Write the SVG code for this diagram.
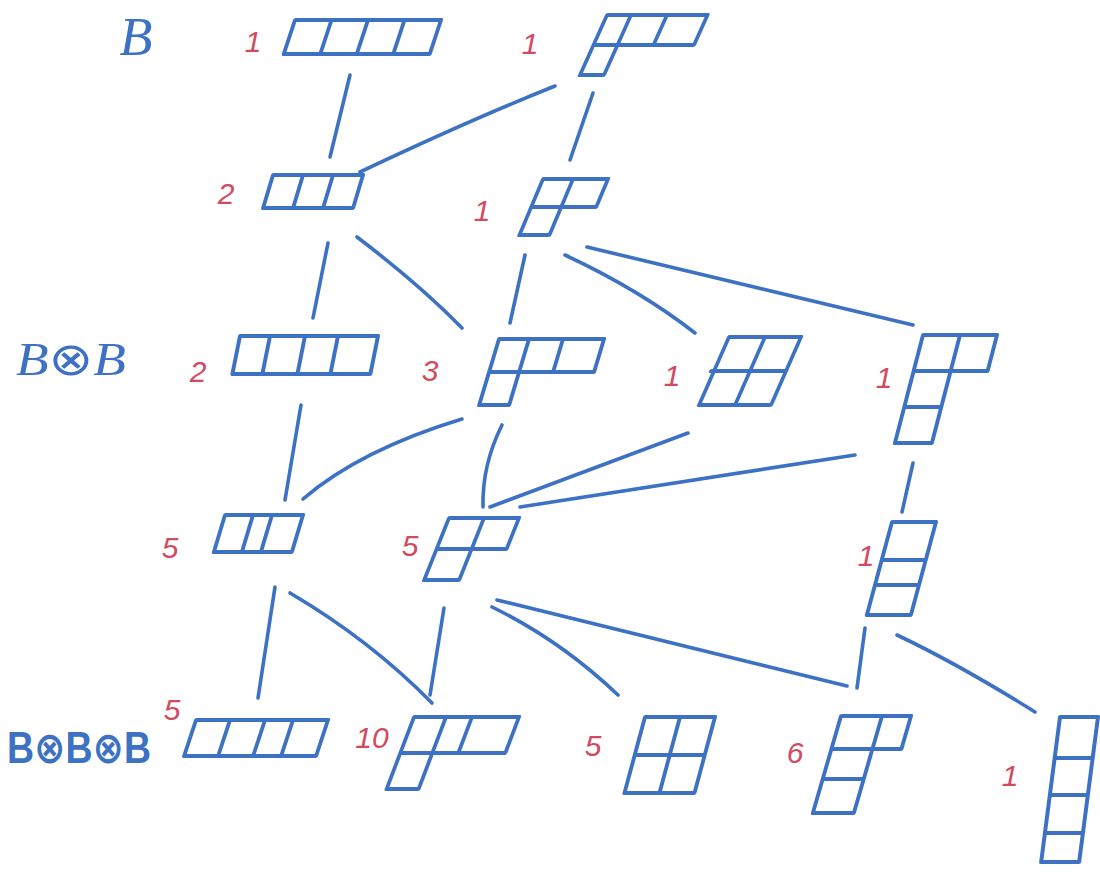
<svg xmlns="http://www.w3.org/2000/svg" width="1100" height="872" viewBox="0 0 1100 872">
  <style>
    .tab { fill: none; stroke: #3d71c4; stroke-width: 4; stroke-linecap: round; stroke-linejoin: round; }
    .edge { fill: none; stroke: #3d71c4; stroke-width: 3.6; stroke-linecap: round; }
    .mult { font-family: "Liberation Sans", "DejaVu Sans", sans-serif; font-style: italic; font-size: 30px; fill: #d24a60; text-anchor: middle; }
    .space { font-family: "Liberation Serif", "DejaVu Sans", serif; font-style: italic; fill: #3d71c4; }
    .space3 { font-family: "Liberation Sans", "DejaVu Sans", sans-serif; font-weight: bold; fill: #3d71c4; }
  </style>
  <rect width="1100" height="872" fill="#ffffff"/>

  <!-- row labels -->
  <g id="labels">
    <text class="space" x="136" y="55" font-size="54" text-anchor="middle">B</text>
    <text class="space" x="16" y="375" font-size="46" textLength="110" lengthAdjust="spacingAndGlyphs">B⊗B</text>
    <text class="space3" x="7" y="763" font-size="44" textLength="144" lengthAdjust="spacingAndGlyphs">B⊗B⊗B</text>
  </g>

  <!-- connectors between consecutive levels -->
  <g id="connectors">
    <path class="edge" d="M350,75 L330,157"/>
    <path class="edge" d="M555,86 Q470,120 360,172"/>
    <path class="edge" d="M593,93 L570,160"/>
    <path class="edge" d="M328,243 L313,318"/>
    <path class="edge" d="M357,237 Q420,285 462,328"/>
    <path class="edge" d="M525,255 L510,323"/>
    <path class="edge" d="M565,255 Q640,290 695,333"/>
    <path class="edge" d="M587,247 L913,325"/>
    <path class="edge" d="M301,405 L285,500"/>
    <path class="edge" d="M462,419 Q360,450 303,499"/>
    <path class="edge" d="M502,425 Q482,465 483,507"/>
    <path class="edge" d="M688,433 L490,507"/>
    <path class="edge" d="M855,455 L520,507"/>
    <path class="edge" d="M913,463 L902,512"/>
    <path class="edge" d="M275,587 L258,698"/>
    <path class="edge" d="M290,593 Q370,640 432,703"/>
    <path class="edge" d="M444,608 L430,695"/>
    <path class="edge" d="M492,607 Q560,640 618,695"/>
    <path class="edge" d="M497,600 L847,686"/>
    <path class="edge" d="M865,628 L857,688"/>
    <path class="edge" d="M897,635 Q960,665 1035,712"/>
  </g>

  <!-- level 1 -->
  <g id="n-4">
    <text class="mult" x="253" y="52">1</text>
    <path class="tab" transform="matrix(1,0,-0.33,1,295,20)" d="M0,0H146V34H0Z M36.5,0V34 M73,0V34 M109.5,0V34"/>
  </g>
  <g id="n-31">
    <text class="mult" x="530" y="54">1</text>
    <path class="tab" transform="matrix(1,0,-0.45,1,607,15)" d="M0,0H100.5V30H0Z M24,0V60 M60,0V30 M0,30V60H24"/>
  </g>

  <!-- level 2 -->
  <g id="n-3">
    <text class="mult" x="226" y="204">2</text>
    <path class="tab" transform="matrix(1,0,-0.3,1,273,175)" d="M0,0H90V33H0Z M30,0V33 M60,0V33"/>
  </g>
  <g id="n-21">
    <text class="mult" x="482" y="221">1</text>
    <path class="tab" transform="matrix(1,0,-0.42,1,543,179)" d="M0,0H65V28H0Z M30,0V56 M0,28V56H30"/>
  </g>

  <!-- level 3 -->
  <g id="n2-4">
    <text class="mult" x="198" y="382">2</text>
    <path class="tab" transform="matrix(1,0,-0.2,1,240,336)" d="M0,0H138V38H0Z M30,0V38 M65,0V38 M98,0V38"/>
  </g>
  <g id="n2-31">
    <text class="mult" x="430" y="381">3</text>
    <path class="tab" transform="matrix(1,0,-0.3,1,499,339)" d="M0,0H105V33H0Z M30,0V66 M64,0V33 M0,33V66H30"/>
  </g>
  <g id="n2-22">
    <text class="mult" x="672" y="386">1</text>
    <path class="tab" transform="matrix(1,0,-0.44,1,729,337)" d="M0,0H72V68H0Z M36,0V68 M-3,34H72"/>
  </g>
  <g id="n2-211">
    <text class="mult" x="884" y="388">1</text>
    <path class="tab" transform="matrix(1,0,-0.26,1,923,335)" d="M0,0H74V36H0Z M37,0V108 M0,36V108H37 M0,72H37"/>
  </g>

  <!-- level 4 -->
  <g id="n3-3">
    <text class="mult" x="170" y="558">5</text>
    <path class="tab" transform="matrix(1,0,-0.3,1,225,515)" d="M0,0H78V37H0Z M28,0V37 M47,0V37"/>
  </g>
  <g id="n3-21">
    <text class="mult" x="410" y="556">5</text>
    <path class="tab" transform="matrix(1,0,-0.4,1,449,518)" d="M0,0H70V31H0Z M35,0V62 M0,31V62H35"/>
  </g>
  <g id="n3-111">
    <text class="mult" x="866" y="566">1</text>
    <path class="tab" transform="matrix(1,0,-0.27,1,892,522)" d="M0,0H44V93H0Z M0,38H44 M0,63H44"/>
  </g>

  <!-- level 5 -->
  <g id="n3-4">
    <text class="mult" x="172" y="720">5</text>
    <path class="tab" transform="matrix(1,0,-0.33,1,196,720)" d="M0,0H132V36H0Z M34,0V36 M69,0V36 M97,0V36"/>
  </g>
  <g id="n3-31">
    <text class="mult" x="372" y="748" font-size="27">10</text>
    <path class="tab" transform="matrix(1,0,-0.38,1,414,717)" d="M0,0H105V36H0Z M32,0V72 M58,0V36 M0,36V72H32"/>
  </g>
  <g id="n3-22">
    <text class="mult" x="593" y="756">5</text>
    <path class="tab" transform="matrix(1,0,-0.27,1,645,717)" d="M0,0H70V76H0Z M35,0V76 M0,38H70"/>
  </g>
  <g id="n3-211">
    <text class="mult" x="795" y="763">6</text>
    <path class="tab" transform="matrix(1,0,-0.29,1,841,716)" d="M0,0H70V33H0Z M41,0V97 M0,33V97H41 M0,63H41"/>
  </g>
  <g id="n3-1111">
    <text class="mult" x="1010" y="786">1</text>
    <path class="tab" transform="matrix(1,0,-0.13,1,1060,717)" d="M0,0H38V145H0Z M0,41H38 M0,78H38 M0,116H38"/>
  </g>
</svg>
